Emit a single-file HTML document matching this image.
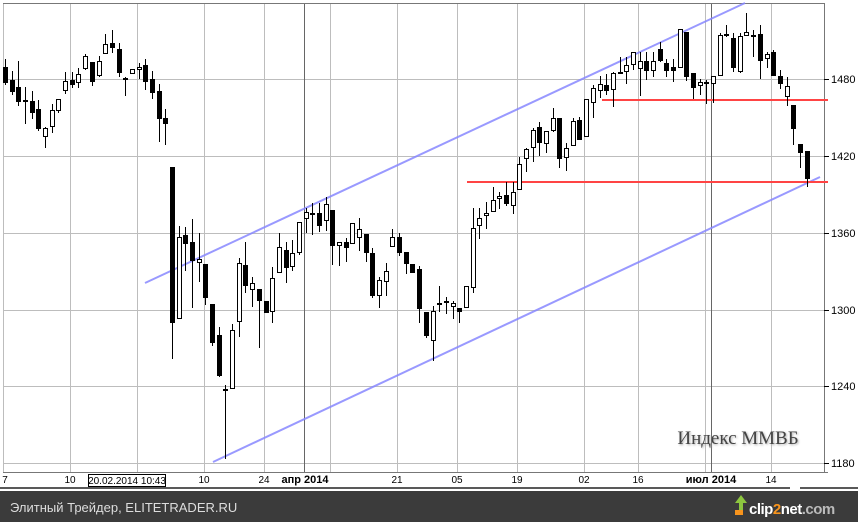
<!DOCTYPE html>
<html><head><meta charset="utf-8">
<style>
html,body{margin:0;padding:0;background:#fff;}
body{width:858px;height:522px;overflow:hidden;position:relative;font-family:"Liberation Sans",sans-serif;}
svg{position:absolute;left:0;top:0;}
</style></head>
<body>
<svg id="s" width="858" height="522" xmlns="http://www.w3.org/2000/svg">
<rect x="0" y="0" width="858" height="522" fill="#fff"/>
<g id="grid" stroke="#bdbdbd" stroke-width="1" shape-rendering="crispEdges"></g>
<line x1="304.5" y1="3" x2="304.5" y2="472" stroke="#666" shape-rendering="crispEdges"/>
<line x1="711.5" y1="3" x2="711.5" y2="472" stroke="#666" shape-rendering="crispEdges"/>
<line x1="3" y1="3.5" x2="824" y2="3.5" stroke="#777" shape-rendering="crispEdges"/>
<line x1="824.5" y1="3" x2="824.5" y2="472" stroke="#777" shape-rendering="crispEdges"/>
<line x1="3" y1="472.5" x2="828" y2="472.5" stroke="#777" shape-rendering="crispEdges"/>
<g stroke="#8888ff" stroke-width="2" opacity="0.85">
<line x1="145" y1="283" x2="745" y2="3"/>
<line x1="213" y1="462" x2="820" y2="177"/>
</g>
<g stroke="#ff4444" stroke-width="2">
<line x1="467" y1="182" x2="828" y2="182"/>
<line x1="602" y1="100" x2="828" y2="100"/>
</g>
<g id="c" shape-rendering="crispEdges"></g>
<g font-size="11" fill="#000" font-family="Liberation Sans,sans-serif">
<line x1="824" y1="79.5" x2="829" y2="79.5" stroke="#000"/><text x="831" y="83">1480</text>
<line x1="824" y1="156.5" x2="829" y2="156.5" stroke="#000"/><text x="831" y="160">1420</text>
<line x1="824" y1="233.5" x2="829" y2="233.5" stroke="#000"/><text x="831" y="237">1360</text>
<line x1="824" y1="310.5" x2="829" y2="310.5" stroke="#000"/><text x="831" y="314">1300</text>
<line x1="824" y1="386.5" x2="829" y2="386.5" stroke="#000"/><text x="831" y="390">1240</text>
<line x1="824" y1="463.5" x2="829" y2="463.5" stroke="#000"/><text x="831" y="467">1180</text>
</g>
<g font-size="10" fill="#000" text-anchor="middle">
<text x="5" y="483">7</text>
<text x="70" y="483">10</text>
<text x="204" y="483">10</text>
<text x="264" y="483">24</text>
<text x="305" y="483" font-weight="bold" font-size="11">апр 2014</text>
<text x="397" y="483">21</text>
<text x="457" y="483">05</text>
<text x="517" y="483">19</text>
<text x="584" y="483">02</text>
<text x="638" y="483">16</text>
<text x="711" y="483" font-weight="bold" font-size="11">июл 2014</text>
<text x="771" y="483">14</text>
</g>
<rect x="88.5" y="474.5" width="77" height="12" fill="#fff" stroke="#000"/>
<text x="127" y="484" font-size="10" text-anchor="middle">20.02.2014 10:43</text>
<line x1="0" y1="488" x2="790" y2="488" stroke="#222" stroke-width="1.5"/>
<line x1="800" y1="488" x2="858" y2="488" stroke="#222" stroke-width="1.5"/>
<text x="738" y="444" font-family="Liberation Serif,serif" font-size="19" fill="#444" text-anchor="middle" style="text-shadow:1px 1px 2px #aaa">Индекс ММВБ</text>
<rect x="0" y="491" width="858" height="31" fill="#3b3b3b"/>
<text x="10" y="512" font-size="13" fill="#ddd">Элитный Трейдер, ELITETRADER.RU</text>
<polygon points="739,513 739,503 735,503 741,495 747,503 743,503 743,513" fill="#8dc63f"/>
<rect x="735" y="510" width="8" height="5" fill="#f7941d"/>
<text x="749" y="514" font-size="15" font-weight="bold" fill="#fff" letter-spacing="-0.5">clip<tspan fill="#f7941d">2</tspan>net<tspan fill="#bbb">.com</tspan></text>
</svg>
<script>
var NS="http://www.w3.org/2000/svg";
var g=document.getElementById('grid');
[3,70,137,204,264,330,397,457,517,584,638,705,771].forEach(function(x){var l=document.createElementNS(NS,'line');l.setAttribute('x1',x+.5);l.setAttribute('x2',x+.5);l.setAttribute('y1',3);l.setAttribute('y2',472);g.appendChild(l);});
[79,156,233,310,386,463].forEach(function(y){var l=document.createElementNS(NS,'line');l.setAttribute('x1',3);l.setAttribute('x2',824);l.setAttribute('y1',y+.5);l.setAttribute('y2',y+.5);g.appendChild(l);});
var d=[[59,67,83,85,1],[71,80,92,95,1],[61,87,102,106,1],[87,100,100,124,1],[91,101,113,119,1],[100,109,129,131,1],[127,128,137,148,0],[104,110,127,133,0],[99,99,111,113,0],[72,81,91,94,0],[72,80,85,88,1],[68,74,83,88,0],[54,56,69,70,0],[62,62,82,86,1],[56,61,76,77,0],[34,44,54,54,0],[30,43,48,53,1],[43,49,73,77,1],[77,78,80,96,0],[69,69,74,74,0],[63,67,70,79,0],[59,65,82,90,1],[71,79,93,99,1],[84,91,119,142,1],[109,118,124,145,1],[167,167,323,359,1],[226,237,319,319,0],[227,235,244,271,1],[219,242,261,308,1],[233,259,263,282,0],[264,264,298,305,1],[304,304,343,346,1],[327,335,376,377,1],[385,389,390,459,1],[324,330,389,389,0],[258,263,322,337,0],[242,265,286,293,1],[277,283,290,307,0],[289,289,301,348,1],[301,301,313,313,1],[267,278,312,323,0],[233,247,273,273,0],[242,250,268,283,1],[240,253,267,271,0],[222,222,253,255,0],[208,212,219,233,0],[203,213,215,235,1],[203,213,226,232,1],[197,204,221,231,0],[210,210,246,265,1],[242,242,246,266,0],[238,242,248,262,1],[223,223,244,244,0],[218,229,238,251,0],[234,234,253,262,1],[248,253,296,298,1],[277,280,296,308,0],[263,271,282,296,0],[229,237,247,247,0],[233,237,253,256,1],[252,252,264,274,1],[264,264,273,273,1],[266,269,309,323,1],[312,312,336,338,1],[306,311,341,361,0],[286,303,305,312,0],[297,301,303,314,1],[301,303,307,319,0],[308,308,312,323,1],
[286,286,308,308,0],[208,228,288,293,0],[208,218,226,239,0],[202,213,216,229,0],[187,200,212,212,0],[192,196,199,209,0],[182,195,204,206,1],[182,192,206,214,0],[157,164,190,190,0],[148,149,159,172,0],[128,130,148,162,0],[122,127,143,156,1],[131,131,144,153,0],[108,118,131,132,0],[118,118,159,168,1],[143,148,158,171,0],[118,121,146,146,0],[117,120,140,140,1],[99,99,137,137,0],[85,88,103,118,0],[76,84,91,98,0],[74,85,91,95,1],[72,73,90,107,0],[57,72,73,74,0],[57,65,72,84,0],[52,52,65,70,0],[52,61,69,96,0],[52,61,71,80,1],[52,61,71,77,0],[42,49,61,62,1],[59,63,71,77,1],[59,67,71,82,1],[29,29,68,68,0],[32,32,77,81,1],[73,73,88,99,1],[79,82,86,95,0],[80,82,84,104,1],[76,76,84,103,0],[33,35,76,76,0],[25,34,36,37,0],[33,38,68,72,1],[33,36,72,73,0],[13,32,36,36,0],[30,35,36,57,0],[25,34,61,79,1],[52,54,59,68,0],[50,52,76,76,1],[70,76,84,89,1],[77,86,97,106,0],[105,105,129,145,1],[144,144,153,168,1],[151,151,179,187,1]];
var c=document.getElementById('c');
d.forEach(function(a,i){
 var x=Math.round(5+i*6.68);
 var l=document.createElementNS(NS,'rect');l.setAttribute('x',x);l.setAttribute('y',a[0]);l.setAttribute('width',1);l.setAttribute('height',Math.max(1,a[3]-a[0]));l.setAttribute('fill','#000');c.appendChild(l);
 var r=document.createElementNS(NS,'rect');var h=Math.max(a[2]-a[1],1);
 if(a[4]){r.setAttribute('x',x-2);r.setAttribute('y',a[1]);r.setAttribute('width',5);r.setAttribute('height',Math.max(h,2));r.setAttribute('fill','#000');}
 else{r.setAttribute('x',x-1.5);r.setAttribute('y',a[1]+.5);r.setAttribute('width',4);r.setAttribute('height',Math.max(h-1,1));r.setAttribute('fill','#fff');r.setAttribute('stroke','#000');}
 c.appendChild(r);
});
</script>
</body></html>
